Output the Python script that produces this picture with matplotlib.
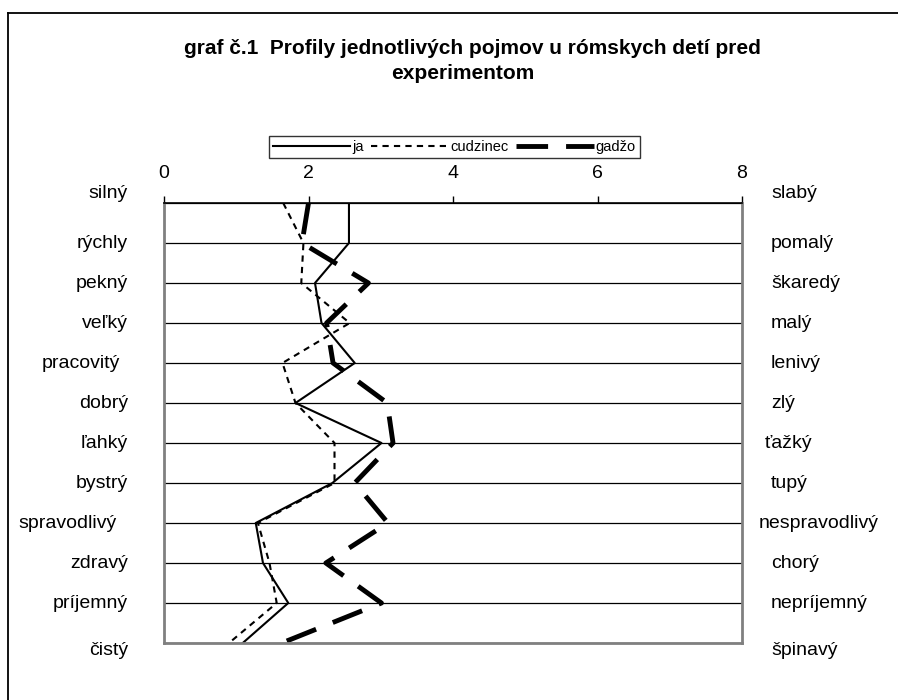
import matplotlib
matplotlib.use("Agg")
import matplotlib.pyplot as plt
from matplotlib.lines import Line2D
from matplotlib.transforms import blended_transform_factory

plt.rcParams['font.family'] = ['Liberation Sans', 'DejaVu Sans']

# Semantic differential: positive pole (left) vs negative pole (right)
left_terms = ["silný", "rýchly", "pekný", "veľký", "pracovitý", "dobrý",
              "ľahký", "bystrý", "spravodlivý", "zdravý", "príjemný", "čistý"]
right_terms = ["slabý", "pomalý", "škaredý", "malý", "lenivý", "zlý",
               "ťažký", "tupý", "nespravodlivý", "chorý", "nepríjemný", "špinavý"]

# Mean ratings of each concept
ja = [2.56, 2.56, 2.09, 2.18, 2.64, 1.82, 3.01, 2.33, 1.27, 1.37, 1.72, 1.09]
cudzinec = [1.65, 1.93, 1.90, 2.57, 1.64, 1.82, 2.36, 2.36, 1.30, 1.46, 1.56, 0.90]
gadzo = [2.00, 1.91, 2.83, 2.25, 2.34, 3.09, 3.17, 2.64, 3.10, 2.24, 3.01, 1.63]

x_ticks = [0, 2, 4, 6, 8]

W, H = 898, 700
fig = plt.figure(figsize=(W / 100, H / 100), dpi=100)

ax = fig.add_axes([164 / W, 1 - 643 / H, (742 - 164) / W, 440 / H])
pos = list(range(len(left_terms)))

l1, = ax.plot(ja, pos, color='black', lw=1.5, label='ja')
l2, = ax.plot(cudzinec, pos, color='black', lw=1.5,
              linestyle=(0, (3, 2.5)), label='cudzinec')
l3, = ax.plot(gadzo, pos, color='black', lw=3.5,
              linestyle=(0, (6.5, 3.7)), label='gadžo')

ax.set_xlim(0, 8)
ax.set_ylim(len(pos) - 1, 0)
ax.xaxis.tick_top()
ax.set_xticks(x_ticks)
ax.tick_params(axis='x', direction='out', length=5, width=1, pad=10,
               labelsize=14, colors='black')
ax.set_yticks(pos)
ax.tick_params(axis='y', length=0, labelleft=False, labelright=False)
ax.yaxis.grid(True, color='black', lw=0.9)
ax.set_axisbelow(True)

ax.spines['top'].set_color('black')
ax.spines['top'].set_linewidth(1.2)
for s in ('left', 'right', 'bottom'):
    ax.spines[s].set_color('#808080')
    ax.spines[s].set_linewidth(2)

# Pole labels on both sides (small horizontal nudges in pixels)
left_nudge = {"pracovitý": -8, "spravodlivý": -11}
right_nudge = {"ťažký": -6, "nespravodlivý": -12}
tr = blended_transform_factory(fig.transFigure, ax.transData)
n = len(pos)
for i, (lt, rt) in enumerate(zip(left_terms, right_terms)):
    dy = 0.0
    if i == 0:
        dy = -0.25
    elif i == n - 1:
        dy = 0.18
    ax.text((128 + left_nudge.get(lt, 0)) / W, i + dy, lt, transform=tr,
            ha='right', va='center', fontsize=14)
    ax.text((771 + right_nudge.get(rt, 0)) / W, i + dy, rt, transform=tr,
            ha='left', va='center', fontsize=14)

# Title
fig.text(472 / W, 1 - 54 / H,
         "graf č.1  Profily jednotlivých pojmov u rómskych detí pred",
         ha='center', va='baseline', fontsize=15, fontweight='bold')
fig.text(463 / W, 1 - 79 / H, "experimentom",
         ha='center', va='baseline', fontsize=15, fontweight='bold')

# Legend
leg = fig.legend(handles=[l1, l2, l3], loc='center',
                 bbox_to_anchor=((267 + 642) / 2 / W, 1 - 147 / H),
                 ncol=3, fontsize=10.5, frameon=True, fancybox=False,
                 edgecolor='black', handlelength=5.3, handletextpad=0.15,
                 columnspacing=0.5, borderpad=0.3, borderaxespad=0)
leg.get_frame().set_linewidth(1)

# Chart frame
fig.add_artist(Line2D([8 / W, 8 / W], [0, 1 - 12.5 / H], color='black',
                      lw=1.3, transform=fig.transFigure))
fig.add_artist(Line2D([8 / W, 1], [1 - 12.5 / H, 1 - 12.5 / H],
                      color='black', lw=1.3, transform=fig.transFigure))

fig.savefig("out.png", dpi=100)
